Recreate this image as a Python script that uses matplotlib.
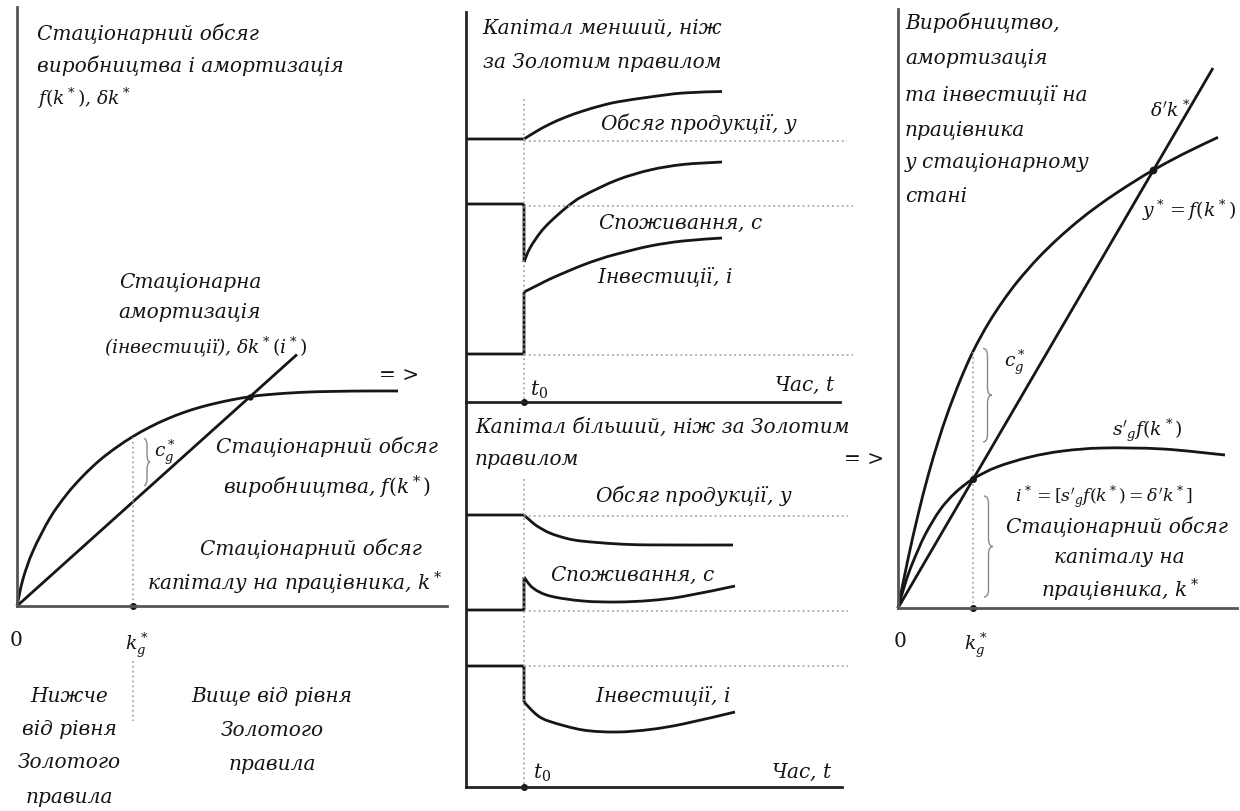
import matplotlib
matplotlib.use("Agg")
import matplotlib.pyplot as plt
from matplotlib.path import Path
from matplotlib.patches import PathPatch

# ---------------- data (units: arbitrary) ----------------
# Left panel: steady-state output f(k*) and depreciation delta*k*
k_left = [0, 0.6, 1.6, 3.3, 5.0, 6.6, 8.3, 10.0, 11.6, 13.3, 15.0, 16.7, 18.3,
          20.0, 21.6, 23.3, 25.0, 28.3, 31.6, 35.0, 38.1]
f_left = [0, 2.7, 5.5, 8.8, 11.2, 13.0, 14.6, 15.9, 16.95, 17.9, 18.7, 19.36, 19.87,
          20.3, 20.64, 20.93, 21.13, 21.36, 21.46, 21.5, 21.5]
dep_left_k = [0, 28.0]
dep_left_v = [0, 25.15]
k_gold_left = 11.6
k_star_left = 23.3

# Middle panels: time paths after t0
t0 = 5.8
# capital below the Golden Rule
lo_y_t = [0, 5.8, 7.1, 8.4, 10.0, 11.7, 13.4, 15.1, 18.4, 21.7, 25.6]
lo_y = [26.3, 26.3, 27.1, 27.8, 28.5, 29.1, 29.6, 30.0, 30.5, 30.9, 31.05]
lo_c_t = [0, 5.8, 5.8, 6.4, 7.4, 8.4, 10.1, 11.7, 15.1, 18.4, 21.7, 25.6]
lo_c = [19.8, 19.8, 14.0, 15.4, 16.9, 18.0, 19.5, 20.6, 22.2, 23.2, 23.75, 24.0]
lo_i_t = [0, 5.8, 5.8, 6.6, 7.4, 8.4, 10.0, 11.7, 13.4, 15.1, 18.4, 21.7, 25.6]
lo_i = [4.8, 4.8, 11.0, 11.4, 11.8, 12.3, 13.0, 13.7, 14.3, 14.8, 15.6, 16.1, 16.4]
lo_ref = [26.1, 19.6, 4.7]
lo_ref_end = [38.1, 38.7, 38.7]
# capital above the Golden Rule
hi_y_t = [0, 5.8, 6.4, 7.1, 8.4, 10.1, 11.7, 15.1, 18.4, 26.7]
hi_y = [27.2, 27.2, 26.66, 26.1, 25.39, 24.85, 24.58, 24.31, 24.21, 24.2]
hi_c_t = [0, 5.8, 5.8, 6.7, 8.4, 11.7, 15.1, 18.4, 21.7, 26.9]
hi_c = [17.7, 17.7, 21.0, 19.9, 19.1, 18.6, 18.5, 18.65, 19.05, 20.1]
hi_i_t = [0, 5.8, 5.8, 7.1, 8.4, 11.7, 15.1, 18.4, 21.7, 26.9]
hi_i = [12.1, 12.1, 8.5, 7.2, 6.55, 5.7, 5.5, 5.75, 6.3, 7.5]
hi_ref = [27.1, 17.6, 12.1]
hi_ref_end = [38.2, 38.2, 38.2]

# Right panel: output, depreciation and investment per worker
k_right = [0, 1.0, 2.0, 3.0, 4.0, 5.0, 6.2, 7.5, 9.0, 10.5, 12.0, 14.0, 16.0,
           18.0, 20.0, 22.0, 24.0, 25.5, 28.5, 32.0]
f_right = [0, 4.9, 9.3, 13.2, 16.6, 19.6, 22.72, 25.65, 28.4, 30.7, 32.7, 34.98, 36.94,
           38.68, 40.22, 41.6, 42.88, 43.77, 45.39, 47.07]
dep_right_k = [0, 31.5]
dep_right_v = [0, 54.0]
ks_right = [0, 0.8, 1.5, 2.7, 4.2, 5.7, 7.5, 9.9, 13.2, 16.5, 20.5, 26.5, 32.7]
sf_right = [0, 2.7, 4.6, 7.3, 9.8, 11.5, 12.9, 14.1, 15.1, 15.7, 16.0, 15.9, 15.3]
k_gold_right = 7.5
k_star_right = 25.5

# ---------------- style ----------------
W, H = 1240, 812
INK = "#161616"
TXT = "#151515"
GRID = "#9a9a9a"
FS = 14.5
FS_MATH = 13.5
plt.rcParams['font.family'] = ['DejaVu Serif']
plt.rcParams['mathtext.fontset'] = 'dejavuserif'

fig = plt.figure(figsize=(W / 100, H / 100), dpi=100)
fig.patch.set_facecolor("white")


def frame(x0, y0, x1, y1, spine_color):
    """Axes occupying a pixel box; one data unit equals ten pixels."""
    ax = fig.add_axes([x0 / W, 1 - y1 / H, (x1 - x0) / W, (y1 - y0) / H])
    ax.set_xlim(0, (x1 - x0) / 10)
    ax.set_ylim(0, (y1 - y0) / 10)
    ax.patch.set_alpha(0)
    for side in ("top", "right"):
        ax.spines[side].set_visible(False)
    for side in ("left", "bottom"):
        ax.spines[side].set_color(spine_color)
        ax.spines[side].set_linewidth(2.0)
    ax.set_xticks([])
    ax.set_yticks([])
    return ax


def brace(ax, x, y_top, y_bot, w=0.35):
    xm, xp = x + w, x + 2 * w
    ym = (y_top + y_bot) / 2
    d = min(0.8, (y_top - y_bot) / 6)
    verts = [(x, y_top), (xm, y_top), (xm, y_top - d), (xm, ym + d),
             (xm, ym), (xp, ym), (xm, ym), (xm, ym - d), (xm, y_bot + d),
             (xm, y_bot), (x, y_bot)]
    codes = [Path.MOVETO, Path.CURVE3, Path.CURVE3, Path.LINETO,
             Path.CURVE3, Path.CURVE3, Path.CURVE3, Path.CURVE3, Path.LINETO,
             Path.CURVE3, Path.CURVE3]
    ax.add_patch(PathPatch(Path(verts, codes), fill=False, edgecolor="#8a8a8a",
                           lw=1.0, clip_on=False))


def label(s, x, y, ha="left", size=FS, style="italic"):
    fig.text(x / W, 1 - y / H, s, ha=ha, va="center", fontsize=size,
             style=style, color=TXT)


def curve(ax, xs, ys, breaks=()):
    """Smooth curve through the given points (Catmull-Rom drawn as Bezier
    segments); the line is split into separate runs at x values in breaks."""
    pts = list(zip(xs, ys))
    runs = [[pts[0]]]
    for i in range(1, len(pts)):
        runs[-1].append(pts[i])
        if i < len(pts) - 1 and pts[i][0] in breaks:
            runs.append([pts[i]])
    verts, codes = [], []
    for run in runs:
        verts.append(run[0])
        codes.append(Path.MOVETO)
        n = len(run)
        for j in range(n - 1):
            p1, p2 = run[j], run[j + 1]
            if n == 2 or p1[0] == p2[0]:
                verts.append(p2)
                codes.append(Path.LINETO)
                continue
            p0 = run[j - 1] if j > 0 else p1
            p3 = run[j + 2] if j + 2 < n else p2
            c1 = (p1[0] + (p2[0] - p0[0]) / 6, p1[1] + (p2[1] - p0[1]) / 6)
            c2 = (p2[0] - (p3[0] - p1[0]) / 6, p2[1] - (p3[1] - p1[1]) / 6)
            verts += [c1, c2, p2]
            codes += [Path.CURVE4] * 3
    ax.add_patch(PathPatch(Path(verts, codes), fill=False, edgecolor=INK,
                           lw=2.0, joinstyle="round", capstyle="butt",
                           clip_on=False))


def straight(ax, xs, ys):
    ax.plot(xs, ys, color=INK, lw=2.0, solid_capstyle="butt", clip_on=False)


dotted = dict(color=GRID, lw=1.1, linestyle=(0, (1.2, 2.0)), clip_on=False)

# ---------------- left panel ----------------
axL = frame(17, 8, 447, 607, "#555555")
curve(axL, k_left, f_left)
straight(axL, dep_left_k, dep_left_v)
f_kg = f_left[k_left.index(k_gold_left)]
d_kg = dep_left_v[1] / dep_left_k[1] * k_gold_left
axL.plot([k_gold_left, k_gold_left], [f_kg, 0], **dotted)
axL.plot([k_gold_left, k_gold_left], [-5.5, -11.5], **dotted)
axL.plot([k_gold_left], [0], "o", color=INK, ms=4, clip_on=False)
axL.plot([k_star_left], [f_left[k_left.index(k_star_left)]], "o", color=INK, ms=3.5)
brace(axL, 12.7, f_kg - 0.2, d_kg + 1.6, w=0.3)

label("Стаціонарний обсяг", 37, 34)
label("виробництва і амортизація", 37, 66)
label("$f(k^*)$, $\\delta k^*$", 37, 98, size=FS_MATH)
label("Стаціонарна", 190, 283, "center")
label("амортизація", 190, 313, "center")
label("(інвестиції), $\\delta k^*(i^*)$", 206, 347, "center", 13.5)
label("= >", 399, 376, "center", style="normal")
label("$c^*_g$", 165, 452, "center", FS_MATH)
label("Стаціонарний обсяг", 327, 447, "center")
label("виробництва, $f(k^*)$", 327, 487, "center")
label("Стаціонарний обсяг", 311, 549, "center")
label("капіталу на працівника, $k^*$", 295, 583, "center")
label("0", 16, 641, "center", style="normal")
label("$k^*_g$", 137, 645, "center", FS_MATH)
for s, y in (("Нижче", 697), ("від рівня", 730), ("Золотого", 763), ("правила", 798)):
    label(s, 69, y, "center")
for s, y in (("Вище від рівня", 697), ("Золотого", 731), ("правила", 765)):
    label(s, 272, y, "center")

# ---------------- middle panels ----------------
axT = frame(466, 13, 840, 403, "#222222")
axB = frame(466, 403, 842, 788, "#222222")

for ax, top in ((axT, 30.3), (axB, 30.8)):
    ax.plot([t0, t0], [top, 0], **dotted)
    ax.plot([t0], [0], "o", color=INK, ms=4, clip_on=False)

for ref, end in zip(lo_ref, lo_ref_end):
    axT.plot([t0, end], [ref, ref], **dotted)
for ref, end in zip(hi_ref, hi_ref_end):
    axB.plot([t0, end], [ref, ref], **dotted)

for ts, vs in ((lo_y_t, lo_y), (lo_c_t, lo_c), (lo_i_t, lo_i)):
    curve(axT, ts, vs, breaks=(t0,))
for ts, vs in ((hi_y_t, hi_y), (hi_c_t, hi_c), (hi_i_t, hi_i)):
    curve(axB, ts, vs, breaks=(t0,))

label("Капітал менший, ніж", 482, 28)
label("за Золотим правилом", 483, 63)
label("Обсяг продукції, $y$", 600, 124)
label("Споживання, $c$", 598, 223)
label("Інвестиції, $i$", 597, 277)
label("$t_0$", 539, 390, "center")
label("Час, $t$", 836, 385, "right")
label("Капітал більший, ніж за Золотим", 475, 427)
label("правилом", 475, 460)
label("Обсяг продукції, $y$", 595, 496)
label("Споживання, $c$", 550, 575)
label("Інвестиції, $i$", 595, 696)
label("$t_0$", 542, 773, "center")
label("Час, $t$", 833, 772, "right")
label("= >", 864, 460, "center", style="normal")

# ---------------- right panel ----------------
axR = frame(898, 10, 1237, 609, "#555555")
curve(axR, k_right, f_right)
straight(axR, dep_right_k, dep_right_v)
curve(axR, ks_right, sf_right)
fr_kg = f_right[k_right.index(k_gold_right)]
sf_kg = sf_right[ks_right.index(k_gold_right)]
axR.plot([k_gold_right, k_gold_right], [fr_kg, 0], **dotted)
axR.plot([k_gold_right], [0], "o", color=INK, ms=4, clip_on=False)
axR.plot([k_gold_right], [sf_kg], "o", color=INK, ms=4)
axR.plot([k_star_right], [f_right[k_right.index(k_star_right)]], "o", color=INK, ms=4.5)
brace(axR, 8.5, fr_kg + 0.3, 16.6, w=0.45)
brace(axR, 8.6, sf_kg - 1.7, 1.1, w=0.45)

for s, y in (("Виробництво,", 23), ("амортизація", 58), ("та інвестиції на", 94),
             ("працівника", 130), ("у стаціонарному", 163), ("стані", 197)):
    label(s, 905, y)
label("$\\delta' k^*$", 1170, 110, "center", FS_MATH)
label("$y^* = f(k^*)$", 1189, 210, "center", FS_MATH)
label("$c^*_g$", 1015, 362, "center", FS_MATH)
label("$s'_g f(k^*)$", 1147, 430, "center", FS_MATH)
label("$i^* = [s'_g f(k^*) = \\delta' k^*]$", 1104, 497, "center", 12.5)
label("Стаціонарний обсяг", 1117, 527, "center")
label("капіталу на", 1119, 558, "center")
label("працівника, $k^*$", 1120, 590, "center")
label("0", 900, 642, "center", style="normal")
label("$k^*_g$", 976, 645, "center", FS_MATH)

fig.savefig("out.png", dpi=100, facecolor="white")
